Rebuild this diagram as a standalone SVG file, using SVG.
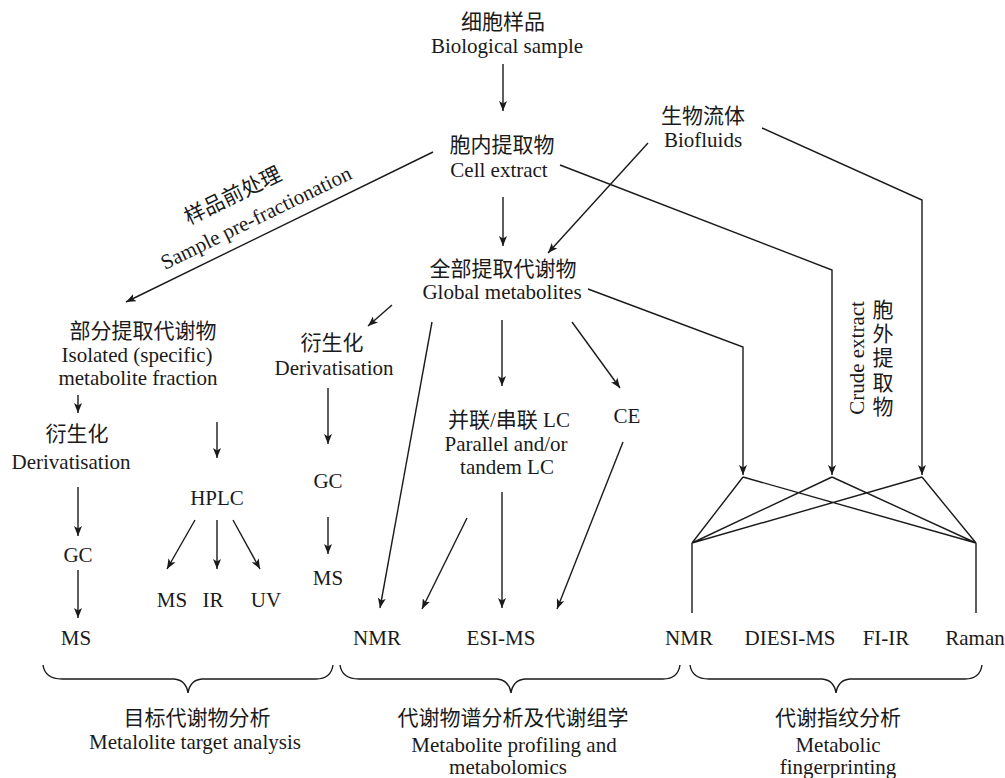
<svg xmlns="http://www.w3.org/2000/svg" width="1005" height="778" viewBox="0 0 1005 778">
<defs>
<style>
text{font-family:"Liberation Serif","Noto Sans CJK SC",serif;font-size:21px;fill:#1a1a1a;text-anchor:middle}
.ln{stroke:#1a1a1a;stroke-width:1.4;fill:none}
.ar{marker-end:url(#ah)}
</style>
<marker id="ah" viewBox="0 0 10 8" refX="10" refY="4" markerWidth="10" markerHeight="8" orient="auto" markerUnits="userSpaceOnUse"><path d="M0,0 L10,4 L0,8 L2.5,4 z" fill="#1a1a1a"/></marker>
</defs>
<rect width="1005" height="778" fill="#fff"/>

<g id="connectors">
<line class="ln ar" x1="503" y1="64" x2="503" y2="111"/>
<line class="ln ar" x1="433" y1="152" x2="126" y2="302"/>
<polyline class="ln ar" points="560,165 832,270 832,475"/>
<line class="ln ar" x1="648" y1="143" x2="548" y2="253"/>
<polyline class="ln ar" points="762,128 922,200 922,475"/>
<line class="ln ar" x1="503" y1="197" x2="503" y2="246"/>
<polyline class="ln ar" points="588,289 743,347 743,475"/>
<path class="ln" d="M743,477 L692,543 M743,477 L976,543 M832,477 L692,543 M832,477 L976,543 M922,477 L692,543 M922,477 L976,543 M692,543 L692,613 M976,543 L976,613"/>
<line class="ln ar" x1="78" y1="395" x2="78" y2="413"/>
<line class="ln ar" x1="78" y1="487" x2="78" y2="536"/>
<line class="ln ar" x1="78" y1="570" x2="78" y2="618"/>
<line class="ln ar" x1="217" y1="422" x2="217" y2="458"/>
<line class="ln ar" x1="195" y1="520" x2="167" y2="569"/>
<line class="ln ar" x1="217" y1="520" x2="217" y2="569"/>
<line class="ln ar" x1="233" y1="520" x2="260" y2="569"/>
<line class="ln ar" x1="392" y1="305" x2="368" y2="326"/>
<line class="ln ar" x1="328" y1="388" x2="328" y2="444"/>
<line class="ln ar" x1="328" y1="517" x2="328" y2="554"/>
<line class="ln ar" x1="432" y1="322" x2="380" y2="608"/>
<line class="ln ar" x1="502" y1="320" x2="502" y2="386"/>
<line class="ln ar" x1="572" y1="322" x2="620" y2="388"/>
<line class="ln ar" x1="502" y1="492" x2="502" y2="608"/>
<line class="ln ar" x1="467" y1="518" x2="422" y2="609"/>
<line class="ln ar" x1="623" y1="442" x2="557" y2="609"/>
<path class="ln" d="M43,665 Q45,679 62,679 L174,679 Q186,680 188,693 Q190,680 202,679 L316,679 Q331,679 333,665"/>
<path class="ln" d="M340,665 Q342,679 359,679 L497,679 Q509,680 511,693 Q513,680 525,679 L663,679 Q678,679 680,665"/>
<path class="ln" d="M690,665 Q692,679 709,679 L822,679 Q834,680 836,693 Q838,680 850,679 L965,679 Q980,679 982,665"/>
</g>

<g id="biological-sample"><text x="503" y="29">细胞样品</text><text x="507" y="53">Biological sample</text></g>
<g id="cell-extract"><text x="502" y="152">胞内提取物</text><text x="499" y="177">Cell extract</text></g>
<g id="biofluids"><text x="703" y="123">生物流体</text><text x="703" y="147">Biofluids</text></g>
<g id="pre-fractionation">
<text transform="translate(236,202) rotate(-26)">样品前处理</text>
<text transform="translate(259,224) rotate(-26)">Sample pre-fractionation</text>
</g>
<g id="global-metabolites"><text x="503" y="276">全部提取代谢物</text><text x="502" y="299">Global metabolites</text></g>
<g id="crude-extract">
<text transform="translate(864,358) rotate(-90)">Crude extract</text>
<text x="883"><tspan x="883" y="317">胞</tspan><tspan x="883" y="341">外</tspan><tspan x="883" y="365">提</tspan><tspan x="883" y="390">取</tspan><tspan x="883" y="414">物</tspan></text>
</g>
<g id="isolated-fraction"><text x="143" y="338">部分提取代谢物</text><text x="137" y="362">Isolated (specific)</text><text x="138" y="385">metabolite fraction</text></g>
<g id="derivatisation-1"><text x="77" y="441">衍生化</text><text x="71" y="469">Derivatisation</text></g>
<g id="gc-1"><text x="78" y="562">GC</text></g>
<g id="ms-1"><text x="76" y="645">MS</text></g>
<g id="hplc"><text x="217" y="505">HPLC</text></g>
<g id="ms-2"><text x="172" y="607">MS</text></g>
<g id="ir"><text x="213" y="607">IR</text></g>
<g id="uv"><text x="266" y="607">UV</text></g>
<g id="derivatisation-2"><text x="332" y="350">衍生化</text><text x="334" y="375">Derivatisation</text></g>
<g id="gc-2"><text x="328" y="488">GC</text></g>
<g id="ms-3"><text x="328" y="585">MS</text></g>
<g id="lc"><text x="509" y="427">并联/串联 LC</text><text x="506" y="451">Parallel and/or</text><text x="507" y="474">tandem LC</text></g>
<g id="ce"><text x="627" y="423">CE</text></g>
<g id="nmr-1"><text x="377" y="645">NMR</text></g>
<g id="esi-ms"><text x="501" y="645">ESI-MS</text></g>
<g id="nmr-2"><text x="689" y="645">NMR</text></g>
<g id="diesi-ms"><text x="790" y="645">DIESI-MS</text></g>
<g id="fi-ir"><text x="886" y="645">FI-IR</text></g>
<g id="raman"><text x="975" y="645">Raman</text></g>
<g id="target-analysis"><text x="197" y="725">目标代谢物分析</text><text x="195" y="749">Metalolite target analysis</text></g>
<g id="profiling"><text x="513" y="725">代谢物谱分析及代谢组学</text><text x="514" y="752">Metabolite profiling and</text><text x="508" y="774">metabolomics</text></g>
<g id="fingerprinting"><text x="838" y="725">代谢指纹分析</text><text x="838" y="752">Metabolic</text><text x="838" y="774">fingerprinting</text></g>
</svg>
